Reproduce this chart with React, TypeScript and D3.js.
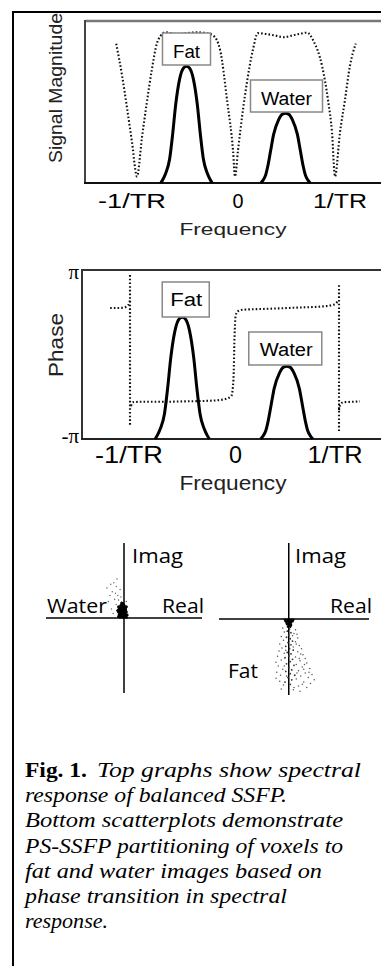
import React from "react";
import * as d3 from "d3";

// bSSFP magnitude profile (frequency in 1/TR units, magnitude 0..1 of the frame)
const magFreq = [-1.21, -1.15, -1.1, -1.05, -1.0, -0.95, -0.9, -0.85, -0.8, -0.76, -0.72, -0.6, -0.5, -0.4, -0.3, -0.23, -0.16, -0.09, -0.03, -0.01, 0.02, 0.07, 0.11, 0.17, 0.22, 0.3, 0.4, 0.48, 0.6, 0.72, 0.78, 0.87, 0.93, 0.97, 1.0, 1.05, 1.1, 1.15, 1.21];
const magValue = [0.86, 0.66, 0.46, 0.25, 0.04, 0.28, 0.5, 0.7, 0.86, 0.91, 0.93, 0.92, 0.925, 0.93, 0.925, 0.91, 0.82, 0.51, 0.2, 0.04, 0.2, 0.45, 0.62, 0.82, 0.925, 0.92, 0.91, 0.9, 0.915, 0.928, 0.88, 0.72, 0.51, 0.31, 0.04, 0.31, 0.51, 0.72, 0.86];

// spectral peaks (same line shapes in both graphs)
const fatPeakFreq = [-0.76, -0.74, -0.71, -0.67, -0.64, -0.61, -0.57, -0.53, -0.5, -0.47, -0.43, -0.39, -0.36, -0.33, -0.29, -0.26, -0.24];
const fatPeakValue = [0, 0.02, 0.06, 0.15, 0.3, 0.48, 0.64, 0.71, 0.72, 0.71, 0.64, 0.48, 0.3, 0.15, 0.06, 0.02, 0];
const waterPeakFreq = [0.25, 0.27, 0.3, 0.32, 0.35, 0.38, 0.43, 0.47, 0.5, 0.53, 0.57, 0.62, 0.65, 0.68, 0.7, 0.73, 0.75];
const waterPeakValue = [0, 0.015, 0.05, 0.1, 0.2, 0.3, 0.39, 0.425, 0.43, 0.425, 0.39, 0.3, 0.2, 0.1, 0.05, 0.015, 0];

// phase profile, values in units of pi
const phaseLeftFreq = [-1.19, -1.12, -1.06, -1.02, -1.0];
const phaseLeftValue = [0.55, 0.55, 0.555, 0.58, 0.64];
const phaseMidFreq = [-0.99, -0.97, -0.9, -0.7, -0.5, -0.3, -0.15, -0.07, -0.03, -0.01, 0.0, 0.01, 0.03, 0.08, 0.3, 0.6, 0.85, 0.95, 0.99];
const phaseMidValue = [-0.61, -0.565, -0.56, -0.56, -0.555, -0.55, -0.54, -0.52, -0.49, -0.3, 0.2, 0.45, 0.51, 0.53, 0.54, 0.555, 0.57, 0.59, 0.63];
const phaseRightFreq = [1.0, 1.01, 1.04, 1.12, 1.2];
const phaseRightValue = [-0.66, -0.6, -0.565, -0.56, -0.555];
// phase wraps at +-1/TR: [freq, top, bottom]
const phaseWraps = [[-1.0, 0.94, -0.83], [1.0, 0.82, -0.93]];

const freqTicks = [-1, 0, 1];
const freqTickLabels = ["-1/TR", "0", "1/TR"];

// scatter clouds, [real, imag]
const waterCore = [[-0.07, 0.02], [-0.05, 0.01], [-0.03, 0.02], [-0.01, 0.01], [0.01, 0.02], [0.03, 0.01], [-0.06, 0.05], [-0.04, 0.04], [-0.02, 0.05], [0.0, 0.04], [0.02, 0.05], [0.04, 0.04], [-0.07, 0.08], [-0.05, 0.08], [-0.03, 0.07], [-0.01, 0.08], [0.01, 0.07], [0.03, 0.08], [-0.06, 0.11], [-0.04, 0.11], [-0.02, 0.1], [0.0, 0.11], [0.02, 0.1], [-0.05, 0.14], [-0.03, 0.13], [-0.01, 0.14], [0.01, 0.13], [-0.04, 0.17], [-0.02, 0.16], [0.0, 0.17], [-0.03, 0.2], [-0.01, 0.19], [-0.06, 0.03], [0.02, 0.03], [-0.04, 0.06], [0.0, 0.06], [-0.02, 0.09], [0.02, 0.12], [-0.06, 0.13], [-0.08, 0.1], [-0.07, 0.15], [0.03, 0.15]];
const waterSpread = [[-0.12, 0.25], [-0.15, 0.35], [-0.1, 0.42], [-0.18, 0.3], [-0.08, 0.3], [-0.13, 0.47], [-0.05, 0.38], [-0.2, 0.22], [-0.1, 0.18], [-0.16, 0.12], [-0.04, 0.28], [-0.09, 0.52], [0.03, 0.22], [-0.14, 0.06], [-0.22, 0.4], [-0.11, 0.33], [-0.07, 0.24], [-0.17, 0.45]];
const fatCore = [[-0.05, -0.01], [-0.02, -0.01], [0.01, -0.01], [0.04, -0.01], [0.06, -0.01], [-0.04, -0.03], [-0.01, -0.03], [0.02, -0.03], [0.05, -0.03], [-0.03, -0.05], [0.0, -0.05], [0.03, -0.05], [-0.02, -0.07], [0.01, -0.07], [0.03, -0.08], [-0.01, -0.1], [0.02, -0.1], [0.01, -0.13], [-0.02, -0.16], [0.03, -0.18], [0.0, -0.21], [-0.03, -0.24], [0.02, -0.26], [0.05, -0.29], [-0.01, -0.31], [0.03, -0.34], [-0.04, -0.36], [0.01, -0.39], [0.06, -0.41], [-0.02, -0.44], [0.03, -0.46], [0.0, -0.49], [-0.05, -0.51], [0.05, -0.53], [0.02, -0.56], [-0.03, -0.59], [0.07, -0.61], [0.0, -0.64], [0.04, -0.67], [-0.04, -0.69], [0.02, -0.72], [0.08, -0.74], [-0.01, -0.77], [0.04, -0.8], [-0.05, -0.83], [0.02, -0.86]];
const fatSpread = [[-0.08, -0.12], [0.09, -0.14], [-0.06, -0.17], [0.07, -0.19], [0.11, -0.2], [-0.1, -0.23], [0.12, -0.25], [-0.07, -0.28], [0.09, -0.3], [-0.12, -0.33], [0.14, -0.35], [0.06, -0.37], [-0.09, -0.38], [0.17, -0.39], [-0.13, -0.42], [0.12, -0.43], [-0.06, -0.45], [0.19, -0.47], [-0.15, -0.49], [0.09, -0.5], [0.22, -0.52], [-0.1, -0.54], [0.15, -0.55], [-0.17, -0.57], [0.24, -0.58], [0.1, -0.6], [-0.14, -0.62], [0.18, -0.63], [0.28, -0.65], [-0.08, -0.66], [0.13, -0.68], [-0.16, -0.7], [0.22, -0.71], [0.31, -0.73], [-0.11, -0.74], [0.16, -0.75], [0.26, -0.77], [-0.17, -0.78], [0.1, -0.79], [0.34, -0.8], [-0.12, -0.82], [0.2, -0.83], [0.29, -0.85], [-0.07, -0.87], [0.13, -0.88], [0.24, -0.9], [-0.1, -0.92], [0.06, -0.93], [0.15, -0.95], [0.05, -0.22], [-0.04, -0.41], [0.1, -0.33], [0.2, -0.66], [-0.03, -0.75], [0.07, -0.9], [0.16, -0.46], [0.21, -0.6], [0.27, -0.7], [0.18, -0.86], [0.11, -0.71], [-0.06, -0.62], [0.14, -0.52]];

const captionLines = [
  "response of balanced SSFP.",
  "Bottom scatterplots demonstrate",
  "PS-SSFP partitioning of voxels to",
  "fat and water images based on",
  "phase transition in spectral",
  "response.",
];
const captionWidths = [262, 318, 318, 297, 262, 83];

const SANS = "'Liberation Sans', Arial, sans-serif";
const HUMAN = "'Open Sans', 'Noto Sans', sans-serif";
const SERIF = "'Liberation Serif', 'Times New Roman', serif";
const dotted = { fill: "none", stroke: "#111", strokeWidth: 2.1, strokeDasharray: "1.6 2.1" };
const solid = { fill: "none", stroke: "#000", strokeWidth: 3, strokeLinejoin: "round" as const };

const zip = (a: number[], b: number[]) => a.map((v, i) => [v, b[i]] as [number, number]);

export default function App() {
  // top: signal magnitude
  const mx = d3.scaleLinear().domain([-1, 1]).range([137, 335]);
  const my = d3.scaleLinear().domain([0, 1]).range([183, 21]);
  const magLine = d3.line<[number, number]>().x(d => mx(d[0])).y(d => my(d[1])).curve(d3.curveMonotoneX);

  // middle: phase
  const px = d3.scaleLinear().domain([-1, 1]).range([130, 339]);
  const py = d3.scaleLinear().domain([-Math.PI, Math.PI]).range([439, 270]);
  const pAmp = d3.scaleLinear().domain([0, 1]).range([439, 270]);
  const phLine = d3.line<[number, number]>().x(d => px(d[0])).y(d => py(d[1] * Math.PI)).curve(d3.curveMonotoneX);
  const phPeak = d3.line<[number, number]>().x(d => px(d[0])).y(d => pAmp(d[1])).curve(d3.curveMonotoneX);

  // scatter plots
  const wx = d3.scaleLinear().domain([-1, 1]).range([46, 202]);
  const wy = d3.scaleLinear().domain([-1, 1]).range([693, 543]);
  const fx = d3.scaleLinear().domain([-0.93, 1.07]).range([219, 369]);
  const fy = d3.scaleLinear().domain([-1, 1]).range([695, 543]);

  const magTickDx = [-5, 2, 5];
  const magTickLen = [68, 11, 54];
  const phTickDx = [-1, 1, -4];
  const phTickLen = [68, 13, 55];

  return (
    <svg width={381} height={966} style={{ position: "absolute", left: 0, top: 0, background: "#fff" }}>
      <rect width={381} height={966} fill="#fff" />
      {/* outer frame */}
      <line x1={13} y1={12} x2={381} y2={12} stroke="#000" strokeWidth={2} />
      <line x1={13} y1={11} x2={13} y2={966} stroke="#000" strokeWidth={2} />

      {/* ---- Signal magnitude ---- */}
      <line x1={85} y1={21} x2={381} y2={21} stroke="#777" strokeWidth={2.5} />
      <line x1={85} y1={20} x2={85} y2={184} stroke="#444" strokeWidth={2} />
      <line x1={84} y1={183} x2={381} y2={183} stroke="#111" strokeWidth={2} />
      <path d={magLine(zip(magFreq, magValue)) || ""} {...dotted} />
      <path d={magLine(zip(fatPeakFreq, fatPeakValue)) || ""} {...solid} />
      <path d={magLine(zip(waterPeakFreq, waterPeakValue)) || ""} {...solid} />
      <rect x={mx(-0.5) - 24} y={33} width={48} height={32} fill="#fff" stroke="#888" strokeWidth={1.5} />
      <text x={mx(-0.5)} y={58} textAnchor="middle" fontFamily={SANS} fontSize={19} textLength={27} lengthAdjust="spacingAndGlyphs">Fat</text>
      <rect x={mx(0.5) - 35} y={80} width={72} height={32} fill="#fff" stroke="#888" strokeWidth={1.5} />
      <text x={mx(0.5) + 1} y={105} textAnchor="middle" fontFamily={SANS} fontSize={18} textLength={51} lengthAdjust="spacingAndGlyphs">Water</text>
      {freqTicks.map((t, i) => (
        <text key={"mt" + i} x={mx(t) + magTickDx[i]} y={208} textAnchor="middle" fontFamily={SANS} fontSize={20}
          textLength={magTickLen[i]} lengthAdjust="spacingAndGlyphs">{freqTickLabels[i]}</text>
      ))}
      <text x={233} y={235} textAnchor="middle" fontFamily={SANS} fontSize={17} textLength={107} lengthAdjust="spacingAndGlyphs" fill="#222">Frequency</text>
      <text transform="translate(62,88) rotate(-90)" textAnchor="middle" fontFamily={SANS} fontSize={18} textLength={150} lengthAdjust="spacingAndGlyphs" fill="#222">Signal Magnitude</text>

      {/* ---- Phase ---- */}
      <line x1={82} y1={270} x2={381} y2={270} stroke="#333" strokeWidth={2} />
      <line x1={82} y1={269} x2={82} y2={440} stroke="#333" strokeWidth={2} />
      <line x1={81} y1={439} x2={381} y2={439} stroke="#222" strokeWidth={2} />
      <path d={phLine(zip(phaseLeftFreq, phaseLeftValue)) || ""} {...dotted} />
      <path d={phLine(zip(phaseMidFreq, phaseMidValue)) || ""} {...dotted} />
      <path d={phLine(zip(phaseRightFreq, phaseRightValue)) || ""} {...dotted} />
      {phaseWraps.map((w, i) => (
        <line key={"w" + i} x1={px(w[0])} x2={px(w[0])} y1={py(w[1] * Math.PI)} y2={py(w[2] * Math.PI)} {...dotted} />
      ))}
      <path d={phPeak(zip(fatPeakFreq, fatPeakValue)) || ""} {...solid} />
      <path d={phPeak(zip(waterPeakFreq, waterPeakValue)) || ""} {...solid} />
      <rect x={px(-0.5) - 20} y={282} width={47} height={35} fill="#fff" stroke="#888" strokeWidth={1.5} />
      <text x={px(-0.5) + 4} y={306} textAnchor="middle" fontFamily={SANS} fontSize={18} textLength={32} lengthAdjust="spacingAndGlyphs">Fat</text>
      <rect x={px(0.5) - 38} y={332} width={73} height={33} fill="#fff" stroke="#888" strokeWidth={1.5} />
      <text x={px(0.5) - 0.5} y={356} textAnchor="middle" fontFamily={SANS} fontSize={18} textLength={53} lengthAdjust="spacingAndGlyphs">Water</text>
      <text x={79} y={py(Math.PI) + 9} textAnchor="end" fontFamily={SERIF} fontSize={21}>π</text>
      <text x={79} y={py(-Math.PI) + 4} textAnchor="end" fontFamily={SERIF} fontSize={21}>-π</text>
      {freqTicks.map((t, i) => (
        <text key={"pt" + i} x={px(t) + phTickDx[i]} y={463} textAnchor="middle" fontFamily={SANS} fontSize={24}
          textLength={phTickLen[i]} lengthAdjust="spacingAndGlyphs">{freqTickLabels[i]}</text>
      ))}
      <text x={233} y={490} textAnchor="middle" fontFamily={SANS} fontSize={20} textLength={107} lengthAdjust="spacingAndGlyphs" fill="#222">Frequency</text>
      <text transform="translate(63,345) rotate(-90)" textAnchor="middle" fontFamily={SANS} fontSize={20} textLength={64} lengthAdjust="spacingAndGlyphs" fill="#222">Phase</text>

      {/* ---- scatter: water ---- */}
      <line x1={wx(-1)} x2={wx(1)} y1={wy(0)} y2={wy(0)} stroke="#000" strokeWidth={1.5} />
      <line x1={wx(0)} x2={wx(0)} y1={wy(1)} y2={wy(-1)} stroke="#000" strokeWidth={1.5} />
      {waterSpread.map((d, i) => <circle key={"ws" + i} cx={wx(d[0])} cy={wy(d[1])} r={0.7} fill="#666" />)}
      {waterCore.map((d, i) => <circle key={"wc" + i} cx={wx(d[0])} cy={wy(d[1])} r={1.5} fill="#000" />)}
      <text x={132} y={563} fontFamily={HUMAN} fontSize={20} textLength={51} lengthAdjust="spacingAndGlyphs">Imag</text>
      <text x={47} y={613} fontFamily={HUMAN} fontSize={20} textLength={60} lengthAdjust="spacingAndGlyphs">Water</text>
      <text x={162} y={613} fontFamily={HUMAN} fontSize={20} textLength={42} lengthAdjust="spacingAndGlyphs">Real</text>

      {/* ---- scatter: fat ---- */}
      <line x1={fx(-0.93)} x2={fx(1.07)} y1={fy(0)} y2={fy(0)} stroke="#000" strokeWidth={1.5} />
      <line x1={fx(0)} x2={fx(0)} y1={fy(1)} y2={fy(-1)} stroke="#000" strokeWidth={1.5} />
      {fatSpread.map((d, i) => <circle key={"fs" + i} cx={fx(d[0])} cy={fy(d[1])} r={0.75} fill="#555" />)}
      {fatCore.map((d, i) => <circle key={"fc" + i} cx={fx(d[0])} cy={fy(d[1])} r={i < 17 ? 1.3 : 0.9} fill={i < 17 ? "#000" : "#333"} />)}
      <text x={295} y={563} fontFamily={HUMAN} fontSize={20} textLength={51} lengthAdjust="spacingAndGlyphs">Imag</text>
      <text x={330} y={613} fontFamily={HUMAN} fontSize={20} textLength={42} lengthAdjust="spacingAndGlyphs">Real</text>
      <text x={228} y={678} fontFamily={HUMAN} fontSize={20} textLength={30} lengthAdjust="spacingAndGlyphs">Fat</text>

      {/* ---- caption ---- */}
      <text x={25} y={777} fontFamily={SERIF} fontSize={20} fontWeight="bold" textLength={62} lengthAdjust="spacingAndGlyphs">Fig. 1.</text>
      <text x={97} y={777} fontFamily={SERIF} fontSize={20} fontStyle="italic" textLength={264} lengthAdjust="spacingAndGlyphs">Top graphs show spectral</text>
      {captionLines.map((l, i) => (
        <text key={"c" + i} x={25} y={777 + (i + 1) * 25.2} fontFamily={SERIF} fontSize={20} fontStyle="italic"
          textLength={captionWidths[i]} lengthAdjust="spacingAndGlyphs">{l}</text>
      ))}
    </svg>
  );
}
